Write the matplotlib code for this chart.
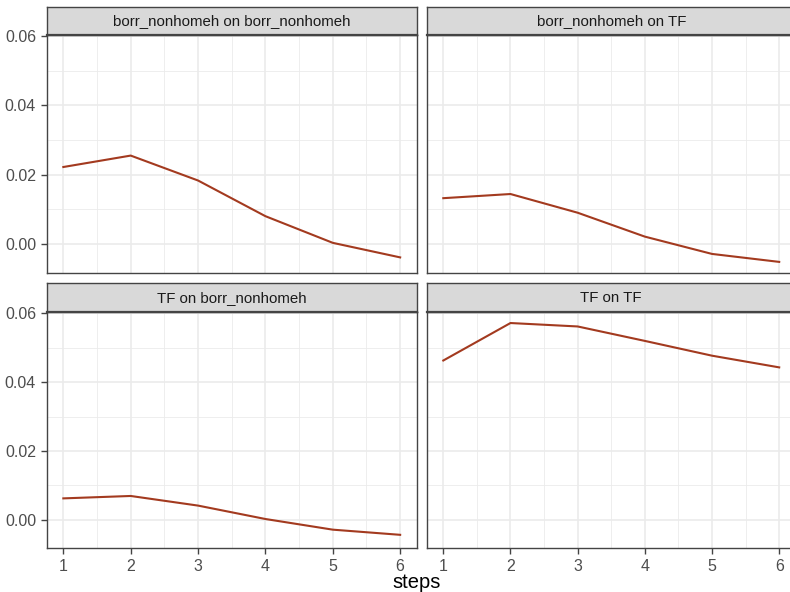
import matplotlib
matplotlib.use("Agg")
import matplotlib.pyplot as plt
import numpy as np

steps = [1, 2, 3, 4, 5, 6]
panel_titles = ["borr_nonhomeh on borr_nonhomeh", "borr_nonhomeh on TF",
                "TF on borr_nonhomeh", "TF on TF"]
borr_on_borr = [0.0222, 0.0255, 0.0183, 0.0080, 0.0003, -0.0039]
borr_on_tf = [0.0132, 0.0144, 0.0090, 0.0021, -0.0029, -0.0052]
tf_on_borr = [0.0062, 0.0069, 0.0041, 0.0002, -0.0029, -0.0044]
tf_on_tf = [0.0463, 0.0572, 0.0562, 0.0520, 0.0477, 0.0443]
series = [borr_on_borr, borr_on_tf, tf_on_borr, tf_on_tf]
y_ticks = [0.00, 0.02, 0.04, 0.06]
y_labels = ["0.00", "0.02", "0.04", "0.06"]

W, H = 790, 592
fig = plt.figure(figsize=(W / 100, H / 100), dpi=100)
plt.rcParams['font.family'] = ['Liberation Sans', 'DejaVu Sans']

allv = np.concatenate([np.array(s) for s in series])
ymin, ymax = allv.min(), allv.max()
ypad = 0.05 * (ymax - ymin)
ylim = (ymin - ypad, ymax + ypad)
xlim = (1 - 0.25, 6 + 0.25)

cols = [(46.5, 417.0), (426.5, 796.0)]
rows = [(35.0, 272.7, 7.3), (312.3, 548.3, 283.3)]
line_color = "#A33A1F"
dark = "#444444"

for i, (title, vals) in enumerate(zip(panel_titles, series)):
    r, c = divmod(i, 2)
    x0, x1 = cols[c]
    top, bot, stop = rows[r]
    ax = fig.add_axes([x0 / W, 1 - bot / H, (x1 - x0) / W, (bot - top) / H])
    ax.set_xlim(*xlim)
    ax.set_ylim(*ylim)
    for yv in [-0.01, 0.01, 0.03, 0.05]:
        ax.axhline(yv, color="#EBEBEB", lw=0.6, zorder=0)
    for xv in [1.5, 2.5, 3.5, 4.5, 5.5]:
        ax.axvline(xv, color="#EBEBEB", lw=0.6, zorder=0)
    for yv in y_ticks:
        ax.axhline(yv, color="#EBEBEB", lw=1.2, zorder=0)
    for xv in steps:
        ax.axvline(xv, color="#EBEBEB", lw=1.2, zorder=0)
    ax.plot(steps, vals, color=line_color, lw=1.5, zorder=3)
    for sp in ax.spines.values():
        sp.set_color(dark)
        sp.set_linewidth(1.0)
    ax.set_xticks(steps)
    ax.set_yticks(y_ticks)
    ax.tick_params(colors=dark, length=4, width=1.0, labelcolor="#4D4D4D", labelsize=11.5)
    if c == 0:
        ax.set_yticklabels(y_labels)
    else:
        ax.tick_params(axis="y", left=False, labelleft=False)
    if r == 1:
        ax.set_xticklabels([str(s) for s in steps])
    else:
        ax.tick_params(axis="x", bottom=False, labelbottom=False)
    sax = fig.add_axes([x0 / W, 1 - top / H, (x1 - x0) / W, (top - stop) / H])
    sax.set_facecolor("#D9D9D9")
    sax.set_xticks([])
    sax.set_yticks([])
    for sp in sax.spines.values():
        sp.set_color(dark)
        sp.set_linewidth(1.0)
    sax.spines["bottom"].set_linewidth(1.6)
    sax.text(0.5, 0.5, title, ha="center", va="center", fontsize=10.8,
             color="#1A1A1A", transform=sax.transAxes)

fig.text(417 / W, 1 - 582 / H, "steps", ha="center", va="center", fontsize=14.5, color="black")

fig.savefig("out.png", dpi=100)
